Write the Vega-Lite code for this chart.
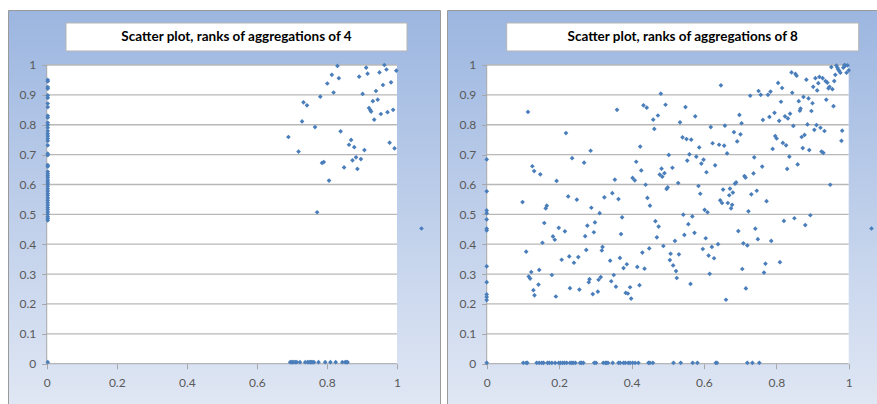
{
"$schema":"https://vega.github.io/schema/vega-lite/v6.json",
"background":"white",
"padding":{"left":7,"top":9,"right":0,"bottom":0},
"spacing":5,
"datasets":{
"p4":[
{"x":0.003,"y":0.950},{"x":0.003,"y":0.945},{"x":0.003,"y":0.926},{"x":0.003,"y":0.921},{"x":0.003,"y":0.898},{"x":0.003,"y":0.890},{"x":0.003,"y":0.871},{"x":0.003,"y":0.859},{"x":0.003,"y":0.830},{"x":0.003,"y":0.824},{"x":0.003,"y":0.807},{"x":0.003,"y":0.799},{"x":0.003,"y":0.790},{"x":0.003,"y":0.779},{"x":0.003,"y":0.770},{"x":0.003,"y":0.762},{"x":0.003,"y":0.754},{"x":0.003,"y":0.746},{"x":0.003,"y":0.731},{"x":0.003,"y":0.703},{"x":0.003,"y":0.698},{"x":0.003,"y":0.665},{"x":0.003,"y":0.660},{"x":0.003,"y":0.643},{"x":0.003,"y":0.636},{"x":0.003,"y":0.629},{"x":0.003,"y":0.623},{"x":0.003,"y":0.615},{"x":0.003,"y":0.608},{"x":0.003,"y":0.602},{"x":0.003,"y":0.594},{"x":0.003,"y":0.586},{"x":0.003,"y":0.578},{"x":0.003,"y":0.570},{"x":0.003,"y":0.563},{"x":0.003,"y":0.555},{"x":0.003,"y":0.547},{"x":0.003,"y":0.539},{"x":0.003,"y":0.531},{"x":0.003,"y":0.523},{"x":0.003,"y":0.516},{"x":0.003,"y":0.508},{"x":0.003,"y":0.500},{"x":0.003,"y":0.492},{"x":0.003,"y":0.486},{"x":0.003,"y":0.480},{"x":0.003,"y":0.005},
{"x":0.690,"y":0.759},{"x":0.719,"y":0.710},{"x":0.729,"y":0.811},{"x":0.733,"y":0.875},{"x":0.743,"y":0.865},{"x":0.766,"y":0.792},{"x":0.772,"y":0.507},{"x":0.781,"y":0.894},{"x":0.786,"y":0.672},{"x":0.791,"y":0.675},{"x":0.801,"y":0.938},{"x":0.806,"y":0.613},{"x":0.814,"y":0.967},{"x":0.819,"y":0.908},{"x":0.830,"y":0.997},{"x":0.834,"y":0.956},{"x":0.839,"y":0.778},{"x":0.849,"y":0.657},{"x":0.863,"y":0.733},{"x":0.869,"y":0.749},{"x":0.873,"y":0.681},{"x":0.878,"y":0.725},{"x":0.883,"y":0.691},{"x":0.887,"y":0.652},{"x":0.892,"y":0.961},{"x":0.897,"y":0.685},{"x":0.902,"y":0.903},{"x":0.907,"y":0.715},{"x":0.912,"y":0.991},{"x":0.916,"y":0.971},{"x":0.920,"y":0.856},{"x":0.924,"y":0.849},{"x":0.926,"y":0.844},{"x":0.931,"y":0.879},{"x":0.935,"y":0.817},{"x":0.940,"y":0.913},{"x":0.945,"y":0.884},{"x":0.950,"y":0.975},{"x":0.954,"y":0.836},{"x":0.960,"y":0.933},{"x":0.964,"y":1.0},{"x":0.970,"y":0.985},{"x":0.973,"y":0.842},{"x":0.979,"y":0.740},{"x":0.983,"y":0.942},{"x":0.989,"y":0.850},{"x":0.993,"y":0.721},{"x":0.998,"y":0.981},
{"x":0.695,"y":0.005},{"x":0.698,"y":0.005},{"x":0.702,"y":0.005},{"x":0.706,"y":0.005},{"x":0.710,"y":0.005},{"x":0.714,"y":0.005},{"x":0.723,"y":0.005},{"x":0.738,"y":0.005},{"x":0.745,"y":0.005},{"x":0.749,"y":0.005},{"x":0.753,"y":0.005},{"x":0.756,"y":0.005},{"x":0.760,"y":0.005},{"x":0.763,"y":0.005},{"x":0.776,"y":0.005},{"x":0.795,"y":0.005},{"x":0.810,"y":0.005},{"x":0.825,"y":0.005},{"x":0.844,"y":0.005},{"x":0.852,"y":0.005},{"x":0.855,"y":0.005},{"x":0.859,"y":0.005}
],
"p8":[
{"x":0,"y":0.684},{"x":0,"y":0.577},{"x":0,"y":0.513},{"x":0,"y":0.504},{"x":0,"y":0.483},{"x":0,"y":0.452},{"x":0,"y":0.446},{"x":0,"y":0.326},{"x":0,"y":0.273},{"x":0,"y":0.232},{"x":0,"y":0.223},{"x":0,"y":0.213},{"x":0,"y":0.003},
{"x":0.099,"y":0.541},{"x":0.109,"y":0.375},{"x":0.114,"y":0.843},{"x":0.116,"y":0.292},{"x":0.120,"y":0.285},{"x":0.123,"y":0.307},{"x":0.126,"y":0.661},{"x":0.129,"y":0.246},{"x":0.131,"y":0.645},{"x":0.132,"y":0.229},{"x":0.143,"y":0.265},{"x":0.145,"y":0.314},{"x":0.148,"y":0.634},{"x":0.154,"y":0.405},{"x":0.159,"y":0.471},{"x":0.163,"y":0.520},{"x":0.166,"y":0.529},{"x":0.180,"y":0.297},{"x":0.183,"y":0.426},{"x":0.188,"y":0.415},{"x":0.191,"y":0.225},{"x":0.193,"y":0.612},{"x":0.199,"y":0.455},{"x":0.207,"y":0.348},{"x":0.216,"y":0.443},{"x":0.219,"y":0.772},{"x":0.225,"y":0.560},{"x":0.228,"y":0.359},{"x":0.230,"y":0.253},{"x":0.236,"y":0.688},{"x":0.241,"y":0.338},{"x":0.249,"y":0.549},{"x":0.253,"y":0.357},{"x":0.256,"y":0.248},{"x":0.269,"y":0.673},{"x":0.272,"y":0.427},{"x":0.275,"y":0.381},{"x":0.278,"y":0.462},{"x":0.282,"y":0.273},{"x":0.284,"y":0.283},{"x":0.287,"y":0.713},{"x":0.289,"y":0.522},{"x":0.293,"y":0.233},{"x":0.296,"y":0.440},{"x":0.299,"y":0.473},{"x":0.307,"y":0.241},{"x":0.309,"y":0.281},{"x":0.312,"y":0.504},{"x":0.315,"y":0.290},{"x":0.318,"y":0.379},{"x":0.320,"y":0.391},{"x":0.325,"y":0.557},{"x":0.341,"y":0.345},{"x":0.344,"y":0.276},{"x":0.347,"y":0.571},{"x":0.351,"y":0.297},{"x":0.354,"y":0.616},{"x":0.357,"y":0.258},{"x":0.360,"y":0.850},{"x":0.364,"y":0.551},{"x":0.368,"y":0.354},{"x":0.371,"y":0.434},{"x":0.374,"y":0.490},{"x":0.378,"y":0.320},{"x":0.384,"y":0.237},{"x":0.387,"y":0.333},{"x":0.390,"y":0.235},{"x":0.396,"y":0.256},{"x":0.399,"y":0.218},{"x":0.403,"y":0.622},{"x":0.409,"y":0.614},{"x":0.413,"y":0.676},{"x":0.416,"y":0.324},{"x":0.422,"y":0.263},{"x":0.424,"y":0.727},{"x":0.427,"y":0.647},{"x":0.430,"y":0.372},{"x":0.433,"y":0.865},{"x":0.436,"y":0.318},{"x":0.439,"y":0.599},{"x":0.442,"y":0.857},{"x":0.444,"y":0.555},{"x":0.449,"y":0.386},{"x":0.451,"y":0.529},{"x":0.460,"y":0.817},{"x":0.463,"y":0.786},{"x":0.466,"y":0.477},{"x":0.470,"y":0.423},{"x":0.473,"y":0.831},{"x":0.475,"y":0.459},{"x":0.478,"y":0.633},{"x":0.481,"y":0.904},{"x":0.483,"y":0.653},{"x":0.485,"y":0.626},{"x":0.488,"y":0.394},{"x":0.491,"y":0.638},{"x":0.494,"y":0.867},{"x":0.497,"y":0.585},{"x":0.500,"y":0.590},{"x":0.503,"y":0.699},{"x":0.506,"y":0.347},{"x":0.508,"y":0.368},{"x":0.513,"y":0.656},{"x":0.515,"y":0.329},{"x":0.520,"y":0.411},{"x":0.523,"y":0.310},{"x":0.525,"y":0.287},{"x":0.529,"y":0.605},{"x":0.531,"y":0.366},{"x":0.534,"y":0.808},{"x":0.541,"y":0.758},{"x":0.543,"y":0.499},{"x":0.546,"y":0.431},{"x":0.549,"y":0.859},{"x":0.552,"y":0.752},{"x":0.554,"y":0.680},{"x":0.557,"y":0.467},{"x":0.560,"y":0.701},{"x":0.563,"y":0.267},{"x":0.565,"y":0.750},{"x":0.568,"y":0.493},{"x":0.574,"y":0.438},{"x":0.576,"y":0.828},{"x":0.579,"y":0.693},{"x":0.585,"y":0.595},{"x":0.587,"y":0.724},{"x":0.590,"y":0.569},{"x":0.593,"y":0.670},{"x":0.597,"y":0.384},{"x":0.599,"y":0.683},{"x":0.602,"y":0.515},{"x":0.605,"y":0.420},{"x":0.607,"y":0.641},{"x":0.610,"y":0.507},{"x":0.613,"y":0.362},{"x":0.616,"y":0.301},{"x":0.619,"y":0.792},{"x":0.622,"y":0.391},{"x":0.624,"y":0.738},{"x":0.628,"y":0.353},{"x":0.631,"y":0.664},{"x":0.639,"y":0.400},{"x":0.642,"y":0.733},{"x":0.645,"y":0.547},{"x":0.647,"y":0.932},{"x":0.650,"y":0.538},{"x":0.653,"y":0.583},{"x":0.656,"y":0.730},{"x":0.658,"y":0.797},{"x":0.661,"y":0.214},{"x":0.664,"y":0.704},{"x":0.666,"y":0.538},{"x":0.670,"y":0.564},{"x":0.672,"y":0.586},{"x":0.675,"y":0.520},{"x":0.678,"y":0.532},{"x":0.680,"y":0.573},{"x":0.683,"y":0.775},{"x":0.686,"y":0.603},{"x":0.689,"y":0.607},{"x":0.692,"y":0.744},{"x":0.695,"y":0.444},{"x":0.698,"y":0.833},{"x":0.701,"y":0.768},{"x":0.704,"y":0.805},{"x":0.706,"y":0.317},{"x":0.709,"y":0.403},{"x":0.712,"y":0.628},{"x":0.715,"y":0.623},{"x":0.716,"y":0.252},{"x":0.720,"y":0.396},{"x":0.723,"y":0.510},{"x":0.728,"y":0.897},{"x":0.731,"y":0.567},{"x":0.737,"y":0.637},{"x":0.739,"y":0.691},{"x":0.742,"y":0.452},{"x":0.746,"y":0.579},{"x":0.749,"y":0.417},{"x":0.751,"y":0.913},{"x":0.757,"y":0.900},{"x":0.761,"y":0.660},{"x":0.763,"y":0.816},{"x":0.766,"y":0.305},{"x":0.770,"y":0.335},{"x":0.773,"y":0.544},{"x":0.777,"y":0.900},{"x":0.781,"y":0.826},{"x":0.784,"y":0.911},{"x":0.786,"y":0.411},{"x":0.790,"y":0.719},{"x":0.795,"y":0.840},{"x":0.797,"y":0.762},{"x":0.801,"y":0.754},{"x":0.805,"y":0.940},{"x":0.808,"y":0.813},{"x":0.810,"y":0.340},{"x":0.813,"y":0.877},{"x":0.816,"y":0.923},{"x":0.818,"y":0.739},{"x":0.821,"y":0.478},{"x":0.824,"y":0.828},{"x":0.827,"y":0.731},{"x":0.830,"y":0.652},{"x":0.832,"y":0.821},{"x":0.836,"y":0.693},{"x":0.838,"y":0.837},{"x":0.842,"y":0.975},{"x":0.844,"y":0.907},{"x":0.847,"y":0.796},{"x":0.850,"y":0.487},{"x":0.853,"y":0.970},{"x":0.856,"y":0.964},{"x":0.859,"y":0.667},{"x":0.862,"y":0.879},{"x":0.865,"y":0.847},{"x":0.867,"y":0.854},{"x":0.870,"y":0.759},{"x":0.873,"y":0.722},{"x":0.875,"y":0.893},{"x":0.878,"y":0.766},{"x":0.880,"y":0.464},{"x":0.883,"y":0.951},{"x":0.886,"y":0.801},{"x":0.889,"y":0.888},{"x":0.891,"y":0.715},{"x":0.894,"y":0.497},{"x":0.897,"y":0.846},{"x":0.900,"y":0.872},{"x":0.902,"y":0.927},{"x":0.905,"y":0.783},{"x":0.908,"y":0.956},{"x":0.911,"y":0.799},{"x":0.913,"y":0.915},{"x":0.916,"y":0.939},{"x":0.919,"y":0.960},{"x":0.922,"y":0.790},{"x":0.925,"y":0.710},{"x":0.928,"y":0.956},{"x":0.930,"y":0.706},{"x":0.933,"y":0.779},{"x":0.936,"y":0.946},{"x":0.938,"y":0.884},{"x":0.941,"y":0.941},{"x":0.944,"y":0.922},{"x":0.947,"y":0.927},{"x":0.949,"y":0.599},{"x":0.952,"y":0.993},{"x":0.955,"y":0.919},{"x":0.958,"y":0.862},{"x":0.960,"y":0.946},{"x":0.963,"y":0.967},{"x":0.966,"y":0.998},{"x":0.969,"y":0.991},{"x":0.971,"y":0.985},{"x":0.974,"y":0.980},{"x":0.977,"y":0.974},{"x":0.980,"y":0.746},{"x":0.982,"y":0.780},{"x":0.985,"y":0.991},{"x":0.988,"y":1.0},{"x":0.991,"y":0.998},{"x":0.994,"y":0.974},{"x":0.997,"y":0.999},{"x":1.0,"y":0.982},
{"x":0.101,"y":0.003},{"x":0.109,"y":0.003},{"x":0.112,"y":0.003},{"x":0.138,"y":0.003},{"x":0.145,"y":0.003},{"x":0.152,"y":0.003},{"x":0.157,"y":0.003},{"x":0.168,"y":0.003},{"x":0.173,"y":0.003},{"x":0.180,"y":0.003},{"x":0.189,"y":0.003},{"x":0.199,"y":0.003},{"x":0.204,"y":0.003},{"x":0.210,"y":0.003},{"x":0.215,"y":0.003},{"x":0.221,"y":0.003},{"x":0.230,"y":0.003},{"x":0.235,"y":0.003},{"x":0.239,"y":0.003},{"x":0.245,"y":0.003},{"x":0.258,"y":0.003},{"x":0.262,"y":0.003},{"x":0.267,"y":0.003},{"x":0.297,"y":0.003},{"x":0.302,"y":0.003},{"x":0.322,"y":0.003},{"x":0.328,"y":0.003},{"x":0.331,"y":0.003},{"x":0.335,"y":0.003},{"x":0.348,"y":0.003},{"x":0.364,"y":0.003},{"x":0.369,"y":0.003},{"x":0.378,"y":0.003},{"x":0.383,"y":0.003},{"x":0.391,"y":0.003},{"x":0.396,"y":0.003},{"x":0.403,"y":0.003},{"x":0.410,"y":0.003},{"x":0.419,"y":0.003},{"x":0.447,"y":0.003},{"x":0.451,"y":0.003},{"x":0.459,"y":0.003},{"x":0.516,"y":0.003},{"x":0.536,"y":0.003},{"x":0.569,"y":0.003},{"x":0.582,"y":0.003},{"x":0.633,"y":0.003},{"x":0.636,"y":0.003},{"x":0.720,"y":0.003},{"x":0.734,"y":0.003},{"x":0.753,"y":0.003}
],
"grid":[{"g":0.1},{"g":0.2},{"g":0.3},{"g":0.4},{"g":0.5},{"g":0.6},{"g":0.7},{"g":0.8},{"g":0.9},{"g":1.0}]
},
"resolve":{"scale":{"color":"independent","x":"independent","y":"independent"},"legend":{"color":"independent"}},
"hconcat":[
{
"width":432,"height":396,
"layer":[
{"data":{"values":[{}]},"mark":{"type":"rect","fill":"white"},
 "encoding":{"x":{"datum":0,"type":"quantitative","scale":{"domain":[-0.1105,1.1228],"nice":false,"zero":false},
  "axis":{"values":[0,0.2,0.4,0.6,0.8,1],"tickCount":30,"format":"~g","title":null,"grid":false,"domain":false,"ticks":true,"tickSize":5,"tickColor":"#a6a6a6","labelColor":"#595959","labelFont":"Lato","labelFontSize":12,"labelPadding":9,"offset":-42.3,"labelFlush":false,"labelOverlap":false}},"x2":{"datum":1},
 "y":{"datum":0,"type":"quantitative","scale":{"domain":[-0.1416,1.1841],"nice":false,"zero":false},
  "axis":{"values":[0,0.1,0.2,0.3,0.4,0.5,0.6,0.7,0.8,0.9,1],"tickCount":30,"format":"~g","title":null,"grid":false,"domain":false,"ticks":true,"tickSize":5,"tickColor":"#a6a6a6","labelColor":"#595959","labelFont":"Lato","labelFontSize":12,"labelPadding":6,"offset":-38.7,"labelFlush":false,"labelOverlap":false}},"y2":{"datum":1}}},
{"data":{"values":[{}]},"mark":{"type":"rect","fill":"white","stroke":"#b5b5b5","strokeWidth":1},
 "encoding":{"x":{"datum":0.0551,"type":"quantitative"},"x2":{"datum":1.0286},
 "y":{"datum":1.1406,"type":"quantitative"},"y2":{"datum":1.0469}}},
{"data":{"values":[{}]},"mark":{"type":"text","text":"Scatter  plot, ranks of aggregations of  4","font":"Lato","fontWeight":"bold","fontSize":13.5,"color":"#000000","align":"center","baseline":"middle"},
 "encoding":{"x":{"datum":0.5418,"type":"quantitative"},
 "y":{"datum":1.0938,"type":"quantitative"}}},
{"data":{"name":"grid"},"mark":{"type":"rule","color":"#b8b8b8","strokeWidth":1.3},
 "encoding":{"y":{"field":"g","type":"quantitative"},
 "x":{"datum":0,"type":"quantitative"},"x2":{"datum":1}}},
{"data":{"values":[{}]},"mark":{"type":"rule","color":"#a6a6a6","strokeWidth":1},
 "encoding":{"y":{"datum":0,"type":"quantitative"},
 "x":{"datum":0,"type":"quantitative"},"x2":{"datum":1}}},
{"data":{"values":[{}]},"mark":{"type":"rule","color":"#a6a6a6","strokeWidth":1},
 "encoding":{"x":{"datum":0,"type":"quantitative"},
 "y":{"datum":0,"type":"quantitative"},"y2":{"datum":1}}},
{"data":{"name":"p4"},"mark":{"type":"point","shape":"diamond","filled":true,"size":22,"opacity":1},
 "encoding":{
 "x":{"field":"x","type":"quantitative"},
 "y":{"field":"y","type":"quantitative"},
 "color":{"datum":"ranks","type":"nominal","scale":{"range":["#4a7ebb"]},
  "legend":{"orient":"none","legendX":410,"legendY":215,"title":null,"labelExpr":"''","labelFontSize":1,"symbolType":"diamond","symbolSize":22,"padding":0}}}}
]
},
{
"width":432,"height":396,
"layer":[
{"data":{"values":[{}]},"mark":{"type":"rect","fill":"white"},
 "encoding":{"x":{"datum":0,"type":"quantitative","scale":{"domain":[-0.1097,1.0837],"nice":false,"zero":false},
  "axis":{"values":[0,0.2,0.4,0.6,0.8,1],"tickCount":30,"format":"~g","title":null,"grid":false,"domain":false,"ticks":true,"tickSize":5,"tickColor":"#a6a6a6","labelColor":"#595959","labelFont":"Lato","labelFontSize":12,"labelPadding":9,"offset":-42.3,"labelFlush":false,"labelOverlap":false}},"x2":{"datum":1},
 "y":{"datum":0,"type":"quantitative","scale":{"domain":[-0.1416,1.1841],"nice":false,"zero":false},
  "axis":{"values":[0,0.1,0.2,0.3,0.4,0.5,0.6,0.7,0.8,0.9,1],"tickCount":30,"format":"~g","title":null,"grid":false,"domain":false,"ticks":true,"tickSize":5,"tickColor":"#a6a6a6","labelColor":"#595959","labelFont":"Lato","labelFontSize":12,"labelPadding":6,"offset":-39.7,"labelFlush":false,"labelOverlap":false}},"y2":{"datum":1}}},
{"data":{"values":[{}]},"mark":{"type":"rect","fill":"white","stroke":"#b5b5b5","strokeWidth":1},
 "encoding":{"x":{"datum":0.0552,"type":"quantitative"},"x2":{"datum":1.0276},
 "y":{"datum":1.1406,"type":"quantitative"},"y2":{"datum":1.0469}}},
{"data":{"values":[{}]},"mark":{"type":"text","text":"Scatter  plot, ranks of aggregations of  8","font":"Lato","fontWeight":"bold","fontSize":13.5,"color":"#000000","align":"center","baseline":"middle"},
 "encoding":{"x":{"datum":0.5414,"type":"quantitative"},
 "y":{"datum":1.0938,"type":"quantitative"}}},
{"data":{"name":"grid"},"mark":{"type":"rule","color":"#b8b8b8","strokeWidth":1.3},
 "encoding":{"y":{"field":"g","type":"quantitative"},
 "x":{"datum":0,"type":"quantitative"},"x2":{"datum":1}}},
{"data":{"values":[{}]},"mark":{"type":"rule","color":"#a6a6a6","strokeWidth":1},
 "encoding":{"y":{"datum":0,"type":"quantitative"},
 "x":{"datum":0,"type":"quantitative"},"x2":{"datum":1}}},
{"data":{"values":[{}]},"mark":{"type":"rule","color":"#a6a6a6","strokeWidth":1},
 "encoding":{"x":{"datum":0,"type":"quantitative"},
 "y":{"datum":0,"type":"quantitative"},"y2":{"datum":1}}},
{"data":{"name":"p8"},"mark":{"type":"point","shape":"diamond","filled":true,"size":22,"opacity":1},
 "encoding":{
 "x":{"field":"x","type":"quantitative"},
 "y":{"field":"y","type":"quantitative"},
 "color":{"datum":"ranks","type":"nominal","scale":{"range":["#4a7ebb"]},
  "legend":{"orient":"none","legendX":421,"legendY":215,"title":null,"labelExpr":"''","labelFontSize":1,"symbolType":"diamond","symbolSize":22,"padding":0}}}}
]
}
],
"config":{
 "view":{"fill":{"gradient":"linear","x1":0,"y1":0,"x2":0,"y2":1,"stops":[{"offset":0,"color":"#9cb6e0"},{"offset":1,"color":"#e0e7f4"}]},"stroke":"#9a9a9a","strokeWidth":1}
}
}
